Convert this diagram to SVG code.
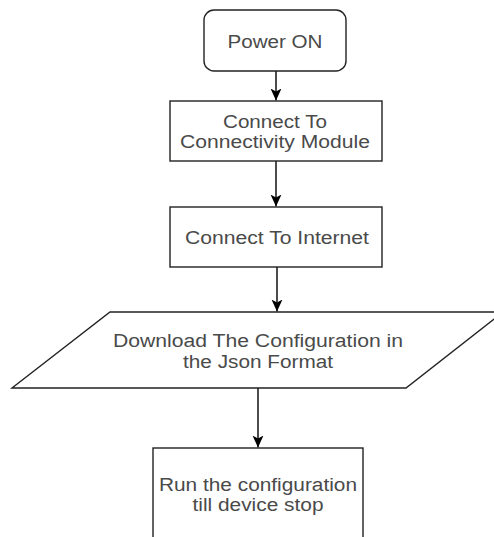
<svg xmlns="http://www.w3.org/2000/svg" width="494" height="537" viewBox="0 0 494 537">
<style>
.shape{fill:#ffffff;stroke:#222222;stroke-width:1.4}
.lbl{font-family:"Liberation Sans",Arial,sans-serif;font-size:18px;fill:#4a4a4a;text-anchor:middle}
.edge{fill:none;stroke:#000000;stroke-width:1.4}
</style>
<defs>
<marker id="arr" markerUnits="userSpaceOnUse" markerWidth="13" markerHeight="12" refX="12" refY="5.5" orient="auto">
<path d="M0,0 L12,5.5 L0,11 L3,5.5 z" fill="#000000"/>
</marker>
</defs>
<rect width="494" height="537" fill="#ffffff"/>
<g id="edges">
<line class="edge" x1="276" y1="71" x2="276" y2="100.5" marker-end="url(#arr)"/>
<line class="edge" x1="276" y1="161" x2="276" y2="206.5" marker-end="url(#arr)"/>
<line class="edge" x1="277" y1="267" x2="277" y2="311.5" marker-end="url(#arr)"/>
<line class="edge" x1="258" y1="388" x2="258" y2="447.5" marker-end="url(#arr)"/>
</g>
<g id="power-on">
<rect class="shape" x="204" y="10" width="142" height="61" rx="10" ry="10"/>
<text class="lbl" x="275" y="48" textLength="95" lengthAdjust="spacingAndGlyphs">Power ON</text>
</g>
<g id="connect-module">
<rect class="shape" x="170" y="101" width="212" height="60"/>
<text class="lbl" x="275" y="128" textLength="104" lengthAdjust="spacingAndGlyphs">Connect To</text>
<text class="lbl" x="275" y="148" textLength="190" lengthAdjust="spacingAndGlyphs">Connectivity Module</text>
</g>
<g id="connect-internet">
<rect class="shape" x="170" y="207" width="212" height="60"/>
<text class="lbl" x="277" y="244" textLength="184" lengthAdjust="spacingAndGlyphs">Connect To Internet</text>
</g>
<g id="download">
<polygon class="shape" points="110,312 503,312 406,388 12,388"/>
<text class="lbl" x="258" y="347" textLength="290" lengthAdjust="spacingAndGlyphs">Download The Configuration in</text>
<text class="lbl" x="258" y="368" textLength="150" lengthAdjust="spacingAndGlyphs">the Json Format</text>
</g>
<g id="run">
<rect class="shape" x="153" y="448" width="210" height="100"/>
<text class="lbl" x="258" y="491" textLength="198" lengthAdjust="spacingAndGlyphs">Run the configuration</text>
<text class="lbl" x="258" y="511" textLength="131" lengthAdjust="spacingAndGlyphs">till device stop</text>
</g>
</svg>
